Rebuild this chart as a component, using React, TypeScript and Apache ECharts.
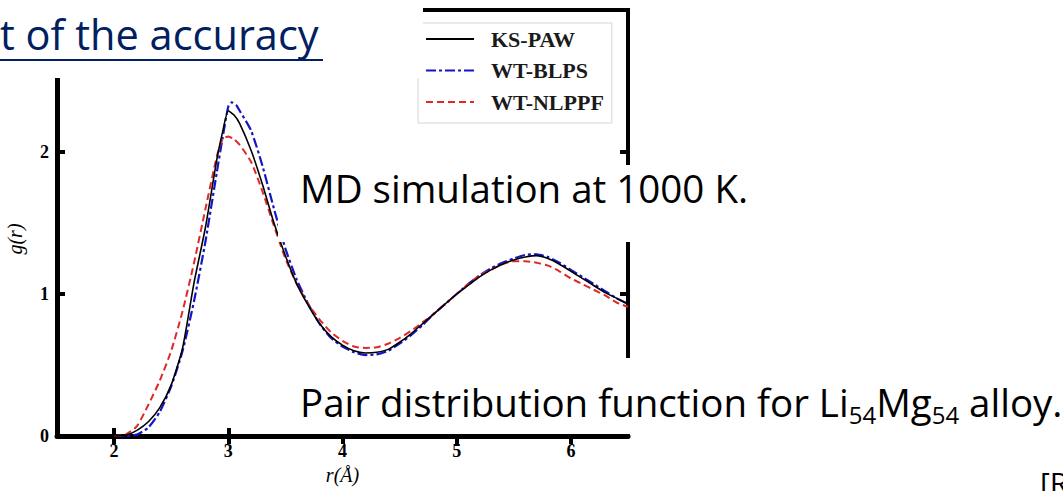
import React, { useEffect, useRef } from "react";
import * as echarts from "echarts";

// ---- data ----
const seriesNames = ["KS-PAW", "WT-BLPS", "WT-NLPPF"];

const rKS = [2.0, 2.1, 2.2, 2.3, 2.4, 2.5, 2.6, 2.7, 2.8, 2.9, 2.95, 3.0, 3.05, 3.1, 3.2, 3.3, 3.4, 3.5, 3.6, 3.7, 3.8, 3.9, 4.0, 4.1, 4.2, 4.3, 4.4, 4.5, 4.6, 4.7, 4.8, 4.9, 5.0, 5.1, 5.2, 5.3, 5.4, 5.5, 5.6, 5.7, 5.8, 5.9, 6.0, 6.1, 6.2, 6.3, 6.4, 6.5];
const gKS = [0, 0.005, 0.04, 0.1, 0.2, 0.36, 0.62, 1.08, 1.47, 1.95, 2.14, 2.29, 2.26, 2.2, 2.01, 1.77, 1.5, 1.27, 1.07, 0.92, 0.79, 0.7, 0.64, 0.6, 0.585, 0.59, 0.61, 0.66, 0.72, 0.79, 0.86, 0.93, 1.0, 1.06, 1.12, 1.17, 1.21, 1.24, 1.26, 1.27, 1.25, 1.21, 1.16, 1.11, 1.06, 1.01, 0.97, 0.93];

const rBLPS = [2.0, 2.1, 2.2, 2.3, 2.4, 2.5, 2.6, 2.7, 2.8, 2.9, 2.95, 3.0, 3.03, 3.07, 3.1, 3.2, 3.3, 3.4, 3.5, 3.6, 3.7, 3.8, 3.9, 4.0, 4.1, 4.2, 4.3, 4.4, 4.5, 4.6, 4.7, 4.8, 4.9, 5.0, 5.1, 5.2, 5.3, 5.4, 5.5, 5.6, 5.7, 5.8, 5.9, 6.0, 6.1, 6.2, 6.3, 6.4, 6.5];
const gBLPS = [0, 0, 0.01, 0.06, 0.17, 0.35, 0.6, 0.95, 1.37, 1.86, 2.1, 2.32, 2.35, 2.33, 2.29, 2.15, 1.9, 1.6, 1.32, 1.1, 0.93, 0.79, 0.69, 0.63, 0.59, 0.57, 0.575, 0.6, 0.65, 0.71, 0.78, 0.86, 0.93, 1.0, 1.07, 1.13, 1.18, 1.22, 1.25, 1.275, 1.28, 1.26, 1.22, 1.17, 1.12, 1.07, 1.02, 0.97, 0.93];

const rNLPPF = [2.0, 2.1, 2.2, 2.3, 2.4, 2.5, 2.6, 2.7, 2.8, 2.9, 2.95, 3.0, 3.05, 3.1, 3.2, 3.3, 3.4, 3.5, 3.6, 3.7, 3.8, 3.9, 4.0, 4.1, 4.2, 4.3, 4.4, 4.5, 4.6, 4.7, 4.8, 4.9, 5.0, 5.1, 5.2, 5.3, 5.4, 5.5, 5.6, 5.7, 5.8, 5.9, 6.0, 6.1, 6.2, 6.3, 6.4, 6.5];
const gNLPPF = [0, 0.01, 0.07, 0.22, 0.39, 0.6, 0.88, 1.22, 1.6, 1.97, 2.09, 2.11, 2.09, 2.05, 1.93, 1.72, 1.48, 1.25, 1.07, 0.93, 0.82, 0.73, 0.67, 0.63, 0.62, 0.625, 0.65, 0.69, 0.74, 0.8, 0.86, 0.93, 1.0, 1.07, 1.13, 1.17, 1.21, 1.23, 1.23, 1.22, 1.2, 1.16, 1.11, 1.07, 1.03, 0.99, 0.94, 0.91];

const xTickValues = [2, 3, 4, 5, 6];
const yTickValues = [0, 1, 2];
const yRightTickValues = [1, 2];

const xAxisName = "r(Å)";
const yAxisName = "g(r)";
const titleText = "t of the accuracy";
const mdText = "MD simulation at 1000 K.";
const captionText = "Pair distribution function for Li{sub|54}Mg{sub|54} alloy.";
const refText = "[R";

const serif = "'Liberation Serif', 'DejaVu Serif', serif";
const sans = "'Open Sans', 'Noto Sans', sans-serif";

export default function App() {
  const ref = useRef<HTMLDivElement>(null);

  useEffect(() => {
    if (!ref.current) return;
    const chart = echarts.init(ref.current, undefined, { renderer: "svg" });

    const pairs = (xs: number[], ys: number[]) => xs.map((x, i) => [x, ys[i]]);

    const tickStyle = { color: "#000", width: 4 };

    const option: any = {
      animation: false,
      backgroundColor: "#fff",
      grid: {
        left: 57,
        right: 435,
        top: 10,
        bottom: 55,
        show: true,
        borderColor: "#000",
        borderWidth: 4,
        backgroundColor: "transparent",
        containLabel: false,
        outerBoundsMode: "none",
      },
      legend: {
        data: seriesNames,
        orient: "vertical",
        left: 418,
        top: 23,
        itemWidth: 48,
        itemHeight: 14,
        itemGap: 9.5,
        padding: [5, 8, 10, 7],
        borderColor: "#d6d6d6",
        borderWidth: 1,
        selectedMode: false,
        itemStyle: { opacity: 0 },
        textStyle: {
          fontFamily: serif,
          fontWeight: "bold",
          fontSize: 22,
          color: "#1a1a1a",
          lineHeight: 22,
          padding: [0, 0, 0, 12],
        },
      },
      xAxis: [
        {
          type: "value",
          min: 1.5,
          max: 6.5,
          position: "bottom",
          name: xAxisName,
          nameLocation: "middle",
          nameGap: 26,
          nameTextStyle: { fontFamily: serif, fontStyle: "italic", fontSize: 20, color: "#000" },
          axisLine: { show: true, onZero: false, lineStyle: { color: "#000", width: 5 } },
          axisTick: { show: true, inside: true, length: 8, lineStyle: tickStyle, customValues: xTickValues },
          axisLabel: {
            customValues: xTickValues,
            fontFamily: serif,
            fontWeight: "bold",
            fontSize: 18,
            color: "#000",
            margin: 6,
          },
          splitLine: { show: false },
        },
        {
          type: "value",
          min: 1.5,
          max: 6.5,
          position: "top",
          axisLine: { show: false },
          axisTick: { show: true, inside: true, length: 8, lineStyle: tickStyle, customValues: xTickValues },
          axisLabel: { show: false },
          splitLine: { show: false },
        },
      ],
      yAxis: [
        {
          type: "value",
          min: 0,
          max: 3,
          interval: 1,
          position: "left",
          name: yAxisName,
          nameLocation: "middle",
          nameGap: 32,
          nameTextStyle: {
            fontFamily: serif,
            fontStyle: "italic",
            fontSize: 20,
            color: "#000",
            padding: [0, 32, 0, 0],
          },
          axisLine: { show: true, onZero: false, lineStyle: { color: "#000", width: 5 } },
          axisTick: { show: true, inside: true, length: 8, lineStyle: tickStyle, customValues: yTickValues },
          axisLabel: {
            customValues: yTickValues,
            fontFamily: serif,
            fontWeight: "bold",
            fontSize: 18,
            color: "#000",
            margin: 8,
          },
          splitLine: { show: false },
        },
        {
          type: "value",
          min: 0,
          max: 3,
          interval: 1,
          position: "right",
          axisLine: { show: false },
          axisTick: { show: true, inside: true, length: 8, lineStyle: tickStyle, customValues: yRightTickValues },
          axisLabel: { show: false },
          splitLine: { show: false },
        },
      ],
      series: [
        {
          name: seriesNames[0],
          type: "line",
          data: pairs(rKS, gKS),
          symbol: "none",
          smooth: 0.2,
          z: 4,
          lineStyle: { color: "#000", width: 1.6, type: "solid" },
          itemStyle: { color: "#000" },
        },
        {
          name: seriesNames[1],
          type: "line",
          data: pairs(rBLPS, gBLPS),
          symbol: "none",
          smooth: 0.2,
          z: 3,
          lineStyle: { color: "#1515c8", width: 2.2, type: [10, 3, 3, 3] },
          itemStyle: { color: "#1515c8" },
        },
        {
          name: seriesNames[2],
          type: "line",
          data: pairs(rNLPPF, gNLPPF),
          symbol: "none",
          smooth: 0.2,
          z: 3,
          lineStyle: { color: "#e02828", width: 2, type: [7, 4] },
          itemStyle: { color: "#e02828" },
        },
      ],
      graphic: [
        { type: "rect", z: 100, shape: { x: 0, y: 0, width: 423, height: 78 }, style: { fill: "#fff" } },
        { type: "rect", z: 100, shape: { x: 278, y: 165, width: 785, height: 77 }, style: { fill: "#fff" } },
        { type: "rect", z: 100, shape: { x: 279, y: 358, width: 784, height: 76 }, style: { fill: "#fff" } },
        {
          type: "text",
          z: 101,
          x: 0,
          y: 34,
          style: {
            text: titleText,
            fontFamily: sans,
            fontSize: 41.5,
            fill: "#002060",
            textAlign: "left",
            verticalAlign: "middle",
          },
        },
        {
          type: "line",
          z: 101,
          shape: { x1: 0, y1: 60, x2: 323, y2: 60 },
          style: { stroke: "#002060", lineWidth: 2 },
        },
        {
          type: "text",
          z: 101,
          x: 300,
          y: 188,
          style: {
            text: mdText,
            fontFamily: sans,
            fontSize: 38.5,
            fill: "#000",
            textAlign: "left",
            verticalAlign: "middle",
          },
        },
        {
          type: "text",
          z: 101,
          x: 300,
          y: 402,
          style: {
            text: captionText,
            fontFamily: sans,
            fontSize: 38.5,
            lineHeight: 48,
            fill: "#000",
            textAlign: "left",
            verticalAlign: "middle",
            rich: {
              sub: {
                fontFamily: sans,
                fontSize: 24,
                lineHeight: 24,
                verticalAlign: "bottom",
                fill: "#000",
              },
            },
          },
        },
        {
          type: "text",
          z: 101,
          x: 1040,
          y: 482,
          style: {
            text: refText,
            fontFamily: sans,
            fontSize: 30,
            fill: "#000",
            textAlign: "left",
            verticalAlign: "middle",
          },
        },
      ],
    };

    chart.setOption(option);
    return () => chart.dispose();
  }, []);

  return (
    <div
      ref={ref}
      style={{ position: "fixed", left: 0, top: 0, width: 1063, height: 491, background: "#fff" }}
    />
  );
}
